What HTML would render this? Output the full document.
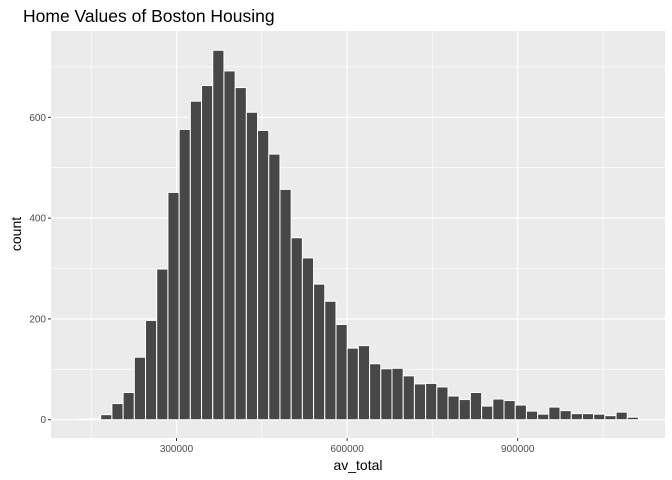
<!DOCTYPE html>
<html><head><meta charset="utf-8"><style>
body{margin:0;background:#fff;}
svg{font-family:"Liberation Sans",Arial,sans-serif;display:block}
</style></head><body>
<svg width="672" height="480" viewBox="0 0 672 480">
<rect x="0" y="0" width="672" height="480" fill="#fff"/>
<text x="23" y="22" font-size="17.5" fill="#000">Home Values of Boston Housing</text>
<rect x="51" y="31" width="614" height="407" fill="#ebebeb"/>
<g id="grid"></g>
<g id="bars"></g>
<g id="axes"></g>
<text x="358" y="470" font-size="14" text-anchor="middle" fill="#000">av_total</text>
<text transform="translate(21,234) rotate(-90)" font-size="14" text-anchor="middle" fill="#000">count</text>
</svg>
<script>
const binStart = 127330;
const binWidth = 19700;
const counts = [1,2,10,32,54,124,197,299,451,576,632,663,733,692,659,610,574,527,457,361,321,269,235,189,142,147,111,101,102,87,71,72,65,47,40,54,27,41,38,29,17,11,25,18,12,12,11,8,15,5];
const xTicks = [300000,600000,900000];
const xTickLabels = ["300000","600000","900000"];
const xMinor = [150000,450000,750000,1050000];
const yTicks = [0,200,400,600];
const yMinor = [100,300,500,700];

const NS="http://www.w3.org/2000/svg";
const X = v => 176.5 + (v-300000)*0.0005687;
const Y = c => 419.7 - c*0.504;
function mk(tag, attrs, parent){const e=document.createElementNS(NS,tag);for(const k in attrs)e.setAttribute(k,attrs[k]);parent.appendChild(e);return e;}
const grid=document.getElementById('grid'), bars=document.getElementById('bars'), axes=document.getElementById('axes');
xMinor.forEach(v=>{const l=mk('line',{x1:X(v),x2:X(v),y1:31,y2:438,stroke:'#fff','stroke-width':0.6},grid);

});
yMinor.forEach(v=>{const l=mk('line',{x1:51,x2:665,y1:Y(v),y2:Y(v),stroke:'#fff','stroke-width':0.6},grid);

});
xTicks.forEach((v,i)=>{const l=mk('line',{x1:X(v),x2:X(v),y1:31,y2:438,stroke:'#fff','stroke-width':1.2},grid);


const t=mk('line',{x1:X(v),x2:X(v),y1:438,y2:441,stroke:'#333','stroke-width':1},axes);


const tx=mk('text',{x:X(v),y:452,'font-size':10,'text-anchor':'middle',fill:'#4d4d4d'},axes);tx.textContent=xTickLabels[i];

});
yTicks.forEach(v=>{const l=mk('line',{x1:51,x2:665,y1:Y(v),y2:Y(v),stroke:'#fff','stroke-width':1.2},grid);


const t=mk('line',{x1:48,x2:51,y1:Y(v),y2:Y(v),stroke:'#333','stroke-width':1},axes);


const tx=mk('text',{x:46,y:Y(v)+3.5,'font-size':10,'text-anchor':'end',fill:'#4d4d4d'},axes);tx.textContent=String(v);

});
counts.forEach((c,i)=>{const x0=X(binStart+i*binWidth),x1=X(binStart+(i+1)*binWidth);
const r=mk('rect',{x:x0,y:Y(c),width:x1-x0,height:Y(0)-Y(c),fill:'#474747',stroke:'#fff','stroke-width':1},bars);

});
</script>
</body></html>
